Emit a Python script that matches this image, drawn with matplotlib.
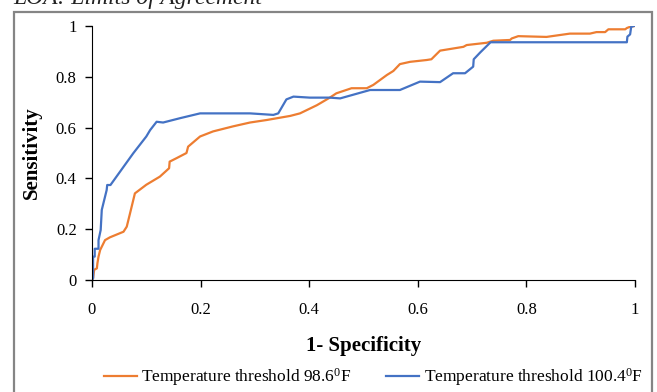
import matplotlib
matplotlib.use("Agg")
import matplotlib.pyplot as plt
from matplotlib.patches import Rectangle

# ROC curve, threshold 98.6 F
fpr_986 = [0.0, 0.002, 0.004, 0.009, 0.01, 0.012, 0.015, 0.024, 0.033, 0.058, 0.064,
           0.07, 0.079, 0.1, 0.125, 0.142, 0.143, 0.156, 0.174, 0.177, 0.199, 0.223,
           0.26, 0.291, 0.322, 0.365, 0.383, 0.414, 0.438, 0.45, 0.478, 0.506, 0.518,
           0.543, 0.555, 0.567, 0.586, 0.616, 0.625, 0.641, 0.684, 0.69, 0.727, 0.739,
           0.77, 0.773, 0.785, 0.837, 0.88, 0.917, 0.929, 0.945, 0.951, 0.982, 0.985,
           0.991, 1.0]
tpr_986 = [0.0, 0.007, 0.04, 0.046, 0.066, 0.092, 0.118, 0.157, 0.168, 0.19, 0.21,
           0.262, 0.341, 0.375, 0.407, 0.44, 0.466, 0.48, 0.5, 0.525, 0.565, 0.585,
           0.605, 0.62, 0.63, 0.646, 0.656, 0.688, 0.718, 0.735, 0.755, 0.755, 0.768,
           0.807, 0.823, 0.85, 0.859, 0.866, 0.869, 0.903, 0.918, 0.925, 0.934, 0.942,
           0.945, 0.951, 0.96, 0.957, 0.97, 0.97, 0.976, 0.976, 0.987, 0.987, 0.992,
           0.997, 1.0]

# ROC curve, threshold 100.4 F
fpr_1004 = [0.0, 0.002, 0.002, 0.005, 0.005, 0.012, 0.012, 0.016, 0.018, 0.027, 0.028,
            0.034, 0.076, 0.1, 0.107, 0.119, 0.131, 0.162, 0.199, 0.291, 0.334, 0.343,
            0.358, 0.371, 0.401, 0.438, 0.457, 0.512, 0.567, 0.604, 0.641, 0.665, 0.687,
            0.702, 0.703, 0.715, 0.734, 0.985, 0.986, 0.991, 0.993, 0.998]
tpr_1004 = [0.0, 0.007, 0.092, 0.092, 0.123, 0.123, 0.157, 0.197, 0.276, 0.354, 0.374,
            0.374, 0.499, 0.565, 0.59, 0.623, 0.62, 0.637, 0.656, 0.656, 0.65, 0.656,
            0.711, 0.722, 0.718, 0.718, 0.715, 0.748, 0.748, 0.781, 0.779, 0.814, 0.814,
            0.84, 0.869, 0.896, 0.936, 0.936, 0.958, 0.967, 0.997, 1.0]

x_ticks = [0, 0.2, 0.4, 0.6, 0.8, 1]
y_ticks = [0, 0.2, 0.4, 0.6, 0.8, 1]
tick_labels = ["0", "0.2", "0.4", "0.6", "0.8", "1"]

orange = "#ED7D31"
blue = "#4472C4"

plt.rcParams["font.family"] = ["Liberation Serif", "DejaVu Serif"]
plt.rcParams["mathtext.fontset"] = "custom"
plt.rcParams["mathtext.rm"] = "Liberation Serif"

fig = plt.figure(figsize=(6.57, 3.92), dpi=100)

# gray frame round the chart (runs past the bottom edge)
fig.patches.append(Rectangle((14 / 657, -0.05), (652 - 14) / 657, 1.05 - 12 / 392,
                             transform=fig.transFigure, fill=False,
                             edgecolor="#858585", linewidth=1.6))
# caption, cut off at the top like in the source page
fig.text(13 / 657, 1 - 4 / 392, "LOA: Limits of Agreement", fontsize=17, style="italic",
         va="baseline", ha="left", color="#222222")

ax = fig.add_axes([92 / 657, (392 - 280) / 392, (635 - 92) / 657, (280 - 26) / 392])
ax.plot(fpr_986, tpr_986, color=orange, linewidth=1.6,
        label=r"Temperature threshold 98.6$\mathrm{^{0}}$F")
ax.plot(fpr_1004, tpr_1004, color=blue, linewidth=1.6,
        label=r"Temperature threshold 100.4$\mathrm{^{0}}$F")

ax.set_xlim(0, 1)
ax.set_ylim(0, 1)
ax.set_xticks(x_ticks)
ax.set_xticklabels(tick_labels)
ax.set_yticks(y_ticks)
ax.set_yticklabels(tick_labels)
ax.spines["top"].set_visible(False)
ax.spines["right"].set_visible(False)
ax.tick_params(axis="both", labelsize=12, length=5, width=1, color="black", direction="out")
ax.tick_params(axis="x", pad=11)
ax.tick_params(axis="y", pad=6)

ax.set_xlabel("1- Specificity", fontsize=15, fontweight="bold", labelpad=13)
ax.set_ylabel("Sensitivity", fontsize=15, fontweight="bold", labelpad=10)

fig.legend(loc="center", bbox_to_anchor=(0.568, 15 / 392), ncol=2, frameon=False,
           fontsize=12.5, handlelength=1.9, handletextpad=0.25, columnspacing=2.0)

fig.savefig("out.png", dpi=100)
